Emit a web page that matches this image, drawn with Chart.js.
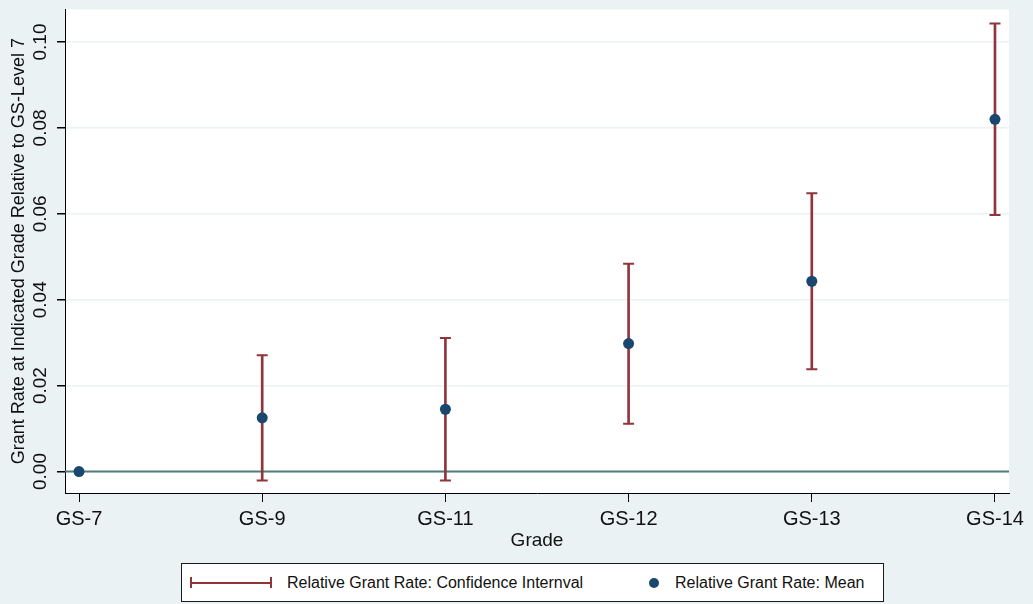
<!DOCTYPE html>
<html>
<head>
<meta charset="utf-8">
<script src="https://cdn.jsdelivr.net/npm/chart.js@4"></script>
<style>
  html, body { margin: 0; padding: 0; background: #eaf2f3; }
  #wrap { position: relative; width: 1033px; height: 604px; }
  #legend {
    position: absolute; left: 181px; top: 563px; width: 703px; height: 39px;
    box-sizing: border-box; border: 1.5px solid #1a1a1a; background: #fff;
    font: 16px "Liberation Sans", Arial, sans-serif; color: #111;
  }
  #legend .ci { position: absolute; left: 8px; top: 18px; width: 82px; height: 2px; background: #90353b; }
  #legend .ci::before, #legend .ci::after {
    content: ''; position: absolute; top: -5px; width: 2px; height: 11px; background: #90353b;
  }
  #legend .ci::before { left: 0; }
  #legend .ci::after { right: 0; }
  #legend .dot { position: absolute; left: 467px; top: 14px; width: 10px; height: 10px; border-radius: 50%; background: #1a476f; }
  #legend .lbl { position: absolute; top: 10px; line-height: 18px; white-space: nowrap; }
</style>
</head>
<body>
<div id="wrap">
  <canvas id="chart" width="1033" height="604"></canvas>
  <div id="legend">
    <div class="ci"></div>
    <div class="lbl" style="left:105px">Relative Grant Rate: Confidence Internval</div>
    <div class="dot"></div>
    <div class="lbl" style="left:493px">Relative Grant Rate: Mean</div>
  </div>
</div>
<script>
const grades = ['GS-7', 'GS-9', 'GS-11', 'GS-12', 'GS-13', 'GS-14'];
const meanRate = [0, 0.0125, 0.0145, 0.0298, 0.0443, 0.0820];
const ciLow = [null, -0.0021, -0.0021, 0.0111, 0.0238, 0.0597];
const ciHigh = [null, 0.0271, 0.0311, 0.0484, 0.0648, 0.1043];
const yTicks = [0, 0.02, 0.04, 0.06, 0.08, 0.10];

const red = '#90353b';
const navy = '#1a476f';
const font = '"Liberation Sans", Arial, sans-serif';

const ciBars = [];
const ciCaps = [];
grades.forEach((g, i) => {
    if (ciLow[i] === null) return;
    ciBars.push({ x: i, y: [ciLow[i], ciHigh[i]] });
    ciCaps.push({ x: i, y: ciLow[i] }, { x: i, y: ciHigh[i] });
});
const means = meanRate.map((v, i) => ({ x: i, y: v }));

const plotBackground = {
    id: 'plotBackground',
    beforeDraw(chart) {
        const { ctx, chartArea: a } = chart;
        ctx.save();
        ctx.fillStyle = '#fff';
        ctx.fillRect(a.left, a.top, a.right - a.left, a.bottom - a.top);
        ctx.restore();
    }
};

const zeroLine = {
    id: 'zeroLine',
    beforeDatasetsDraw(chart) {
        const { ctx, chartArea: a, scales } = chart;
        const y = scales.y.getPixelForValue(0);
        ctx.save();
        ctx.strokeStyle = '#4f7d78';
        ctx.lineWidth = 2;
        ctx.beginPath();
        ctx.moveTo(a.left, y);
        ctx.lineTo(a.right, y);
        ctx.stroke();
        ctx.restore();
    }
};

new Chart(document.getElementById('chart').getContext('2d'), {
    type: 'bar',
    data: {
        datasets: [
            {
                type: 'scatter',
                data: means,
                backgroundColor: navy,
                borderWidth: 0,
                pointRadius: 5.5,
                order: 0
            },
            {
                type: 'scatter',
                data: ciCaps,
                pointStyle: 'line',
                pointRadius: 5.5,
                borderColor: red,
                borderWidth: 2,
                order: 1
            },
            {
                type: 'bar',
                data: ciBars,
                backgroundColor: red,
                borderWidth: 0,
                barThickness: 2,
                order: 2
            }
        ]
    },
    options: {
        responsive: false,
        animation: false,
        events: [],
        layout: { padding: { top: 5, right: 24, left: 0, bottom: 0 } },
        plugins: { legend: { display: false }, tooltip: { enabled: false } },
        scales: {
            x: {
                type: 'linear',
                min: -0.0765,
                max: 5.0765,
                offset: false,
                afterBuildTicks: s => { s.ticks = grades.map((g, i) => ({ value: i })); },
                afterFit: s => { s.height = 111; },
                ticks: {
                    callback: v => grades[v],
                    color: '#111',
                    font: { family: font, size: 20 },
                    padding: 5,
                    maxRotation: 0,
                    autoSkip: false
                },
                grid: { offset: false, drawOnChartArea: false, drawTicks: true, tickLength: 9, tickColor: '#000' },
                border: { color: '#000', width: 1 },
                title: {
                    display: true,
                    text: 'Grade',
                    color: '#111',
                    font: { family: font, size: 19 },
                    padding: { top: 0, bottom: 52 }
                }
            },
            y: {
                min: -0.005,
                max: 0.1076,
                afterBuildTicks: s => { s.ticks = yTicks.map(v => ({ value: v })); },
                afterFit: s => { s.width = 65; },
                ticks: {
                    callback: v => v.toFixed(2),
                    color: '#111',
                    font: { family: font, size: 19 },
                    minRotation: 90,
                    maxRotation: 90,
                    crossAlign: 'center',
                    padding: -2
                },
                grid: { color: '#eaf2f3', lineWidth: 1.5, tickColor: '#000', tickLength: 8 },
                border: { color: '#000', width: 1 },
                title: {
                    display: true,
                    text: 'Grant Rate at Indicated Grade Relative to GS-Level 7',
                    color: '#111',
                    font: { family: font, size: 18 },
                    padding: { top: 8, bottom: 0 }
                }
            }
        }
    },
    plugins: [plotBackground, zeroLine]
});
</script>
</body>
</html>
